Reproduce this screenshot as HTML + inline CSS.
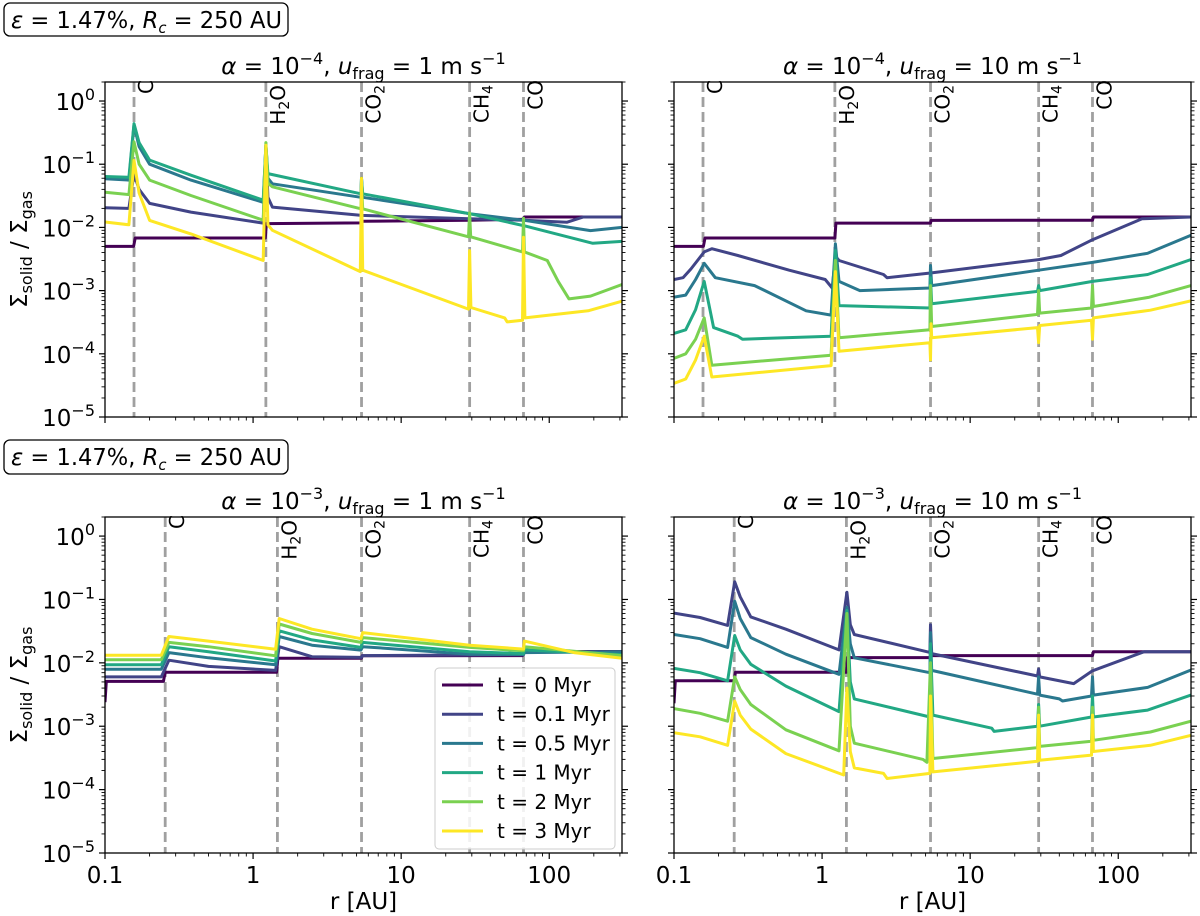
<!DOCTYPE html>
<html><head><meta charset="utf-8"><style>
html,body{margin:0;padding:0;background:#fff;}
svg{display:block;font-family:"DejaVu Sans","Liberation Sans",sans-serif;}
</style></head><body>
<svg id="fig" width="1200" height="916" viewBox="0 0 1200 916" xmlns="http://www.w3.org/2000/svg">
<g>
<rect x="4" y="3" width="284" height="33" rx="6" fill="#fff" stroke="#000" stroke-width="1.3"/>
<text x="11" y="28" font-size="23" textLength="271" lengthAdjust="spacingAndGlyphs"><tspan font-style="italic">ε</tspan> = 1.47%, <tspan font-style="italic">R</tspan><tspan font-style="italic" font-size="15" dy="5">c</tspan><tspan dy="-5"> = 250 AU</tspan></text>
</g>
<g>
<rect x="4" y="440" width="284" height="34" rx="6" fill="#fff" stroke="#000" stroke-width="1.3"/>
<text x="11" y="465" font-size="23" textLength="271" lengthAdjust="spacingAndGlyphs"><tspan font-style="italic">ε</tspan> = 1.47%, <tspan font-style="italic">R</tspan><tspan font-style="italic" font-size="15" dy="5">c</tspan><tspan dy="-5"> = 250 AU</tspan></text>
</g>
</svg>
<script>
const ns="http://www.w3.org/2000/svg";
const svg=document.getElementById('fig');
const seriesLabels=["t = 0 Myr","t = 0.1 Myr","t = 0.5 Myr","t = 1 Myr","t = 2 Myr","t = 3 Myr"];
const seriesColors=["#440154","#414487","#2a788e","#22a884","#7ad151","#fde725"];
const iceNames=["C","H2O","CO2","CH4","CO"];
const iceTop=[0.157,1.22,5.4,29,67];
const iceBottom=[0.255,1.46,5.4,29,67];
const xTickVals=[0.1,1,10,100];
const xTickLabels=["0.1","1","10","100"];
const yTickExps=[0,-1,-2,-3,-4,-5];
const xLim=[0.1,310];
const yLim=[1e-5,2];

// top-left: alpha 1e-4, ufrag 1
const tl0=[[0.1,0.005],[0.156,0.005],[0.16,0.0068],[1.21,0.0068],[1.23,0.0115],[5.4,0.0118],[5.45,0.0125],[29,0.013],[66,0.0135],[68,0.0146],[310,0.0146]];
const tl1=[[0.1,0.0205],[0.145,0.02],[0.157,0.071],[0.17,0.04],[0.2,0.024],[0.38,0.0175],[1.17,0.0117],[1.22,0.2],[1.26,0.03],[1.35,0.021],[5.4,0.0155],[29,0.0137],[67,0.013],[132,0.0121],[170,0.0146],[310,0.0146]];
const tl2=[[0.1,0.059],[0.145,0.056],[0.157,0.42],[0.17,0.19],[0.2,0.1],[0.38,0.056],[1.17,0.025],[1.22,0.2],[1.26,0.06],[1.35,0.049],[5.35,0.03],[5.4,0.06],[5.5,0.03],[29,0.0165],[67,0.013],[190,0.0089],[310,0.01]];
const tl3=[[0.1,0.064],[0.145,0.062],[0.157,0.44],[0.17,0.22],[0.2,0.116],[0.38,0.067],[1.17,0.027],[1.22,0.2],[1.26,0.071],[5.35,0.034],[5.4,0.06],[5.5,0.034],[29,0.0165],[67,0.0107],[197,0.0056],[310,0.006]];
const tl4=[[0.1,0.036],[0.145,0.033],[0.157,0.226],[0.17,0.1],[0.2,0.056],[0.38,0.032],[1.17,0.013],[1.22,0.22],[1.26,0.05],[1.35,0.044],[5.35,0.0197],[5.4,0.05],[5.5,0.0197],[28.5,0.0071],[29,0.017],[29.5,0.0071],[66,0.0041],[67,0.014],[68,0.0041],[97,0.003],[115,0.0014],[136,0.00074],[190,0.00082],[310,0.00125]];
const tl5=[[0.1,0.0122],[0.145,0.011],[0.157,0.115],[0.17,0.035],[0.2,0.0129],[0.38,0.0079],[1.17,0.003],[1.22,0.2],[1.26,0.011],[1.35,0.009],[5.3,0.002],[5.4,0.06],[5.5,0.0021],[28.5,0.00051],[29,0.0043],[29.6,0.00054],[50,0.00037],[52,0.00032],[66,0.00034],[67,0.007],[68.5,0.00037],[183,0.00048],[310,0.00068]];
// top-right: alpha 1e-4, ufrag 10
const tr0=[[0.1,0.005],[0.158,0.005],[0.162,0.0068],[1.22,0.0068],[1.24,0.0117],[5.4,0.0117],[5.45,0.0129],[29,0.013],[67,0.013],[68,0.0146],[310,0.0146]];
const tr1=[[0.1,0.0015],[0.115,0.0016],[0.13,0.0022],[0.16,0.0041],[0.18,0.0046],[0.27,0.0036],[0.6,0.0021],[1.05,0.0015],[1.17,0.0011],[1.23,0.0035],[1.3,0.003],[2.6,0.0018],[2.75,0.0016],[5.4,0.0019],[29,0.0031],[41,0.0036],[67,0.0064],[145,0.0137],[310,0.0146]];
const tr2=[[0.1,0.00079],[0.12,0.00085],[0.14,0.0015],[0.16,0.0027],[0.19,0.0016],[0.35,0.0012],[0.78,0.00048],[1.15,0.00041],[1.23,0.0055],[1.3,0.0014],[1.8,0.001],[5.35,0.0011],[5.4,0.0025],[5.5,0.0012],[29,0.0021],[67,0.0028],[158,0.0039],[310,0.0075]];
const tr3=[[0.1,0.00021],[0.12,0.00024],[0.14,0.0005],[0.16,0.0014],[0.185,0.00026],[0.27,0.00019],[0.29,0.00017],[1.15,0.00019],[1.23,0.0043],[1.3,0.00058],[5.35,0.00053],[5.4,0.0016],[5.5,0.00062],[28.5,0.00097],[29,0.0012],[29.5,0.001],[67,0.0014],[158,0.0018],[310,0.0031]];
const tr4=[[0.1,8.5e-5],[0.12,1e-4],[0.14,1.7e-4],[0.16,3.7e-4],[0.18,6.6e-5],[1.15,9.5e-5],[1.23,0.003],[1.3,1.8e-4],[5.35,2.4e-4],[5.4,0.0012],[5.5,2.7e-4],[28.5,4.2e-4],[29,0.001],[29.5,4.4e-4],[66,5.3e-4],[67,0.0012],[68,5.6e-4],[160,7.8e-4],[310,0.0012]];
const tr5=[[0.1,3.4e-5],[0.12,4e-5],[0.14,8e-5],[0.16,1.9e-4],[0.18,4.3e-5],[1.15,6.5e-5],[1.23,0.002],[1.3,1.1e-4],[5.35,1.5e-4],[5.4,8e-5],[5.45,3e-4],[5.5,1.8e-4],[28.5,2.6e-4],[29,1.5e-4],[29.5,2.8e-4],[66,3.4e-4],[67,1.7e-4],[68,3.7e-4],[165,4.9e-4],[310,6.9e-4]];
// bottom-left: alpha 1e-3, ufrag 1
const bl0=[[0.1,0.0024],[0.102,0.0051],[0.248,0.0051],[0.255,0.0071],[1.44,0.0071],[1.47,0.0118],[5.4,0.0118],[5.45,0.0129],[66,0.013],[68,0.0151],[310,0.0151]];
const bl1=[[0.1,0.006],[0.24,0.006],[0.27,0.011],[0.5,0.0088],[1.42,0.0076],[1.5,0.018],[2.5,0.0125],[5.4,0.0122],[5.5,0.013],[67,0.0135],[68,0.015],[310,0.015]];
const bl2=[[0.1,0.0079],[0.24,0.0079],[0.27,0.0145],[0.5,0.012],[1.42,0.0093],[1.5,0.026],[2.5,0.019],[5.35,0.0159],[5.5,0.018],[29,0.0137],[67,0.0135],[68,0.0145],[310,0.015]];
const bl3=[[0.1,0.0093],[0.24,0.0093],[0.27,0.018],[0.5,0.015],[1.42,0.0107],[1.5,0.032],[2.5,0.023],[5.35,0.0175],[5.5,0.021],[29,0.015],[67,0.014],[68,0.016],[310,0.0135]];
const bl4=[[0.1,0.0112],[0.24,0.0112],[0.27,0.021],[0.5,0.018],[1.42,0.0129],[1.5,0.041],[2.5,0.029],[5.35,0.021],[5.5,0.025],[29,0.0175],[67,0.0155],[68,0.018],[310,0.013]];
const bl5=[[0.1,0.0132],[0.24,0.0132],[0.27,0.026],[0.5,0.022],[1.42,0.0164],[1.5,0.05],[2.5,0.034],[5.35,0.024],[5.5,0.03],[29,0.019],[67,0.0165],[68,0.022],[147,0.0145],[310,0.0118]];
// bottom-right: alpha 1e-3, ufrag 10
const br0=[[0.1,0.0023],[0.102,0.0052],[0.255,0.0052],[0.26,0.0071],[1.46,0.0071],[1.48,0.0121],[5.4,0.0121],[5.45,0.013],[67,0.013],[68,0.015],[310,0.015]];
const br1=[[0.1,0.061],[0.15,0.052],[0.23,0.039],[0.257,0.19],[0.28,0.11],[0.33,0.053],[0.57,0.034],[1.3,0.016],[1.47,0.13],[1.55,0.04],[1.65,0.028],[5.35,0.0146],[5.4,0.04],[5.5,0.014],[28.5,0.0062],[29,0.008],[29.5,0.006],[50,0.0047],[67,0.0075],[150,0.015],[310,0.015]];
const br2=[[0.1,0.028],[0.15,0.024],[0.23,0.0175],[0.257,0.094],[0.28,0.05],[0.33,0.025],[0.57,0.0137],[1.3,0.0066],[1.47,0.075],[1.55,0.02],[1.65,0.012],[5.35,0.007],[5.4,0.03],[5.5,0.0076],[28.5,0.0032],[29,0.006],[29.5,0.0031],[40,0.0027],[42,0.0025],[66,0.003],[67,0.006],[68,0.0031],[158,0.0041],[310,0.0077]];
const br3=[[0.1,0.0082],[0.15,0.007],[0.23,0.0052],[0.257,0.027],[0.28,0.016],[0.33,0.0095],[0.57,0.0043],[1.3,0.0017],[1.47,0.067],[1.55,0.005],[1.65,0.0027],[5.35,0.0014],[5.4,0.02],[5.6,0.0015],[14,0.00093],[14.5,0.00083],[28.5,0.001],[29,0.0022],[29.5,0.001],[66,0.0014],[67,0.003],[68,0.0014],[158,0.0018],[310,0.0031]];
const br4=[[0.1,0.0019],[0.15,0.0016],[0.23,0.0012],[0.257,0.006],[0.28,0.0038],[0.33,0.0022],[0.57,0.00088],[1.3,0.00041],[1.47,0.06],[1.55,0.001],[1.65,0.00054],[4.8,0.0003],[5.1,0.00027],[5.4,0.01],[5.6,0.00031],[28.5,0.00046],[29,0.002],[29.5,0.00048],[66,0.00058],[67,0.002],[68,0.0006],[165,0.00081],[310,0.0012]];
const br5=[[0.1,0.00079],[0.15,0.00068],[0.23,0.0005],[0.257,0.0025],[0.28,0.0015],[0.33,0.0009],[0.57,0.00037],[1.4,0.00017],[1.47,0.004],[1.55,0.0004],[1.65,0.00022],[2.6,0.00018],[2.75,0.00015],[5.35,0.00018],[5.4,0.003],[5.6,0.00019],[28.5,0.00028],[29,0.0015],[29.5,0.00029],[66,0.00035],[67,0.0015],[68,0.0004],[165,0.0005],[310,0.00072]];

const panels=[
 {name:'top-left',x0:105,x1:622,y0:82,y1:417,alpha:'−4',u:'1',ice:iceTop,series:[tl0,tl1,tl2,tl3,tl4,tl5],ylab:true,xlab:false},
 {name:'top-right',x0:674,x1:1191,y0:82,y1:417,alpha:'−4',u:'10',ice:iceTop,series:[tr0,tr1,tr2,tr3,tr4,tr5],ylab:false,xlab:false},
 {name:'bottom-left',x0:105,x1:622,y0:517,y1:853,alpha:'−3',u:'1',ice:iceBottom,series:[bl0,bl1,bl2,bl3,bl4,bl5],ylab:true,xlab:true,legend:true},
 {name:'bottom-right',x0:674,x1:1191,y0:517,y1:853,alpha:'−3',u:'10',ice:iceBottom,series:[br0,br1,br2,br3,br4,br5],ylab:false,xlab:true}
];
function mk(tag,attrs,parent){const e=document.createElementNS(ns,tag);for(const k in attrs)e.setAttribute(k,attrs[k]);(parent||svg).appendChild(e);return e;}
panels.forEach((p,pi)=>{
 const g=mk('g',{});
 
 
 const lx0=Math.log10(xLim[0]),lx1=Math.log10(xLim[1]),ly0=Math.log10(yLim[0]),ly1=Math.log10(yLim[1]);
 const X=r=>p.x0+(Math.log10(r)-lx0)/(lx1-lx0)*(p.x1-p.x0);
 const Y=v=>p.y1-(Math.log10(v)-ly0)/(ly1-ly0)*(p.y1-p.y0);
 const cid='clip'+pi;
 const cp=mk('clipPath',{id:cid},g);mk('rect',{x:p.x0,y:p.y0,width:p.x1-p.x0,height:p.y1-p.y0},cp);
 p.ice.forEach((r,i)=>{
  const l=mk('line',{x1:X(r),x2:X(r),y1:p.y0,y2:p.y1,stroke:'#a0a0a0','stroke-width':2.8,'stroke-dasharray':'10,5'},g);
  
  
 });
 const sg=mk('g',{'clip-path':'url(#'+cid+')'},g);
 p.series.forEach((s,i)=>{
  const d=s.map((pt,j)=>(j?'L':'M')+X(pt[0]).toFixed(1)+','+Y(pt[1]).toFixed(1)).join('');
  const path=mk('path',{d:d,fill:'none',stroke:seriesColors[i],'stroke-width':3,'stroke-linejoin':'round'},sg);
  
  
 });
 p.ice.forEach((r,i)=>{
  const x=X(r)+19, y=(i===0||i===4)?p.y0-2:p.y0+3;
  const t=mk('text',{x:x,y:y,'font-size':20,'text-anchor':'end',transform:'rotate(-90 '+x+' '+y+')'},g);
  
  
  const nm=iceNames[i];
  if(nm==='H2O'){t.innerHTML='H<tspan font-size="14" dy="4">2</tspan><tspan dy="-4">O</tspan>';}
  else if(nm==='CO2'){t.innerHTML='CO<tspan font-size="14" dy="4">2</tspan>';}
  else if(nm==='CH4'){t.innerHTML='CH<tspan font-size="14" dy="4">4</tspan>';}
  else t.textContent=nm;
 });
 const fr=mk('rect',{x:p.x0,y:p.y0,width:p.x1-p.x0,height:p.y1-p.y0,fill:'none',stroke:'#000','stroke-width':1.3},g);
 
 
 for(let e=-5;e<=0;e++){
  [p.x0,p.x1].forEach(xx=>{
   const s=xx===p.x0?-1:1;
   mk('line',{x1:xx,x2:xx+s*6,y1:Y(Math.pow(10,e)),y2:Y(Math.pow(10,e)),stroke:'#000','stroke-width':1.2},g);
   for(let m=2;m<=9;m++){const v=m*Math.pow(10,e);if(v>yLim[1])continue;
    mk('line',{x1:xx,x2:xx+s*3.5,y1:Y(v),y2:Y(v),stroke:'#000','stroke-width':0.9},g);}
  });
 }
 if(p.ylab){
  yTickExps.forEach(e=>{
   const t=mk('text',{x:p.x0-10,y:Y(Math.pow(10,e))+9,'font-size':23,'text-anchor':'end'},g);
   
   
   t.innerHTML='10<tspan font-size="16" dy="-10">'+(e===0?'0':'−'+(-e))+'</tspan>';
  });
  const cy=(p.y0+p.y1)/2;
  const t=mk('text',{x:27,y:cy,'font-size':23,'text-anchor':'middle',transform:'rotate(-90 27 '+cy+')'},g);
  
  
  t.innerHTML='Σ<tspan font-size="16" dy="5">solid</tspan><tspan dy="-5"> / Σ</tspan><tspan font-size="16" dy="5">gas</tspan>';
 }
 for(let e=-1;e<=2;e++){
  mk('line',{x1:X(Math.pow(10,e)),x2:X(Math.pow(10,e)),y1:p.y1,y2:p.y1+6,stroke:'#000','stroke-width':1.2},g);
  for(let m=2;m<=9;m++){const v=m*Math.pow(10,e);if(v>xLim[1])continue;
   mk('line',{x1:X(v),x2:X(v),y1:p.y1,y2:p.y1+3.5,stroke:'#000','stroke-width':0.9},g);}
 }
 if(p.xlab){
  xTickVals.forEach((v,i)=>{
   const t=mk('text',{x:X(v),y:p.y1+30,'font-size':23,'text-anchor':'middle'},g);
   
   
   t.textContent=xTickLabels[i];
  });
  const t=mk('text',{x:(p.x0+p.x1)/2,y:p.y1+56,'font-size':23,'text-anchor':'middle'},g);
  
  
  t.textContent='r [AU]';
 }
 const tt=mk('text',{x:(p.x0+p.x1)/2,y:p.y0-8,'font-size':23,'text-anchor':'middle'},g);
 
 
 tt.innerHTML='<tspan font-style="italic">α</tspan> = 10<tspan font-size="16" dy="-10">'+p.alpha+'</tspan><tspan dy="10">, </tspan><tspan font-style="italic">u</tspan><tspan font-size="16" dy="5">frag</tspan><tspan dy="-5"> = '+p.u+' m s</tspan><tspan font-size="16" dy="-10">−1</tspan>';
 if(p.legend){
  const lg=mk('g',{},g);
  
  
  mk('rect',{x:435,y:668,width:180,height:181,rx:4,fill:'#fff','fill-opacity':0.85,stroke:'#cccccc','stroke-width':1},lg);
  seriesLabels.forEach((lab,i)=>{
   const yy=685+i*29.2;
   const eg=mk('g',{},lg);
   
   
   mk('line',{x1:442,x2:483,y1:yy,y2:yy,stroke:seriesColors[i],'stroke-width':3},eg);
   const t=mk('text',{x:497,y:yy+7,'font-size':20},eg);
   t.textContent=lab;
  });
 }
});
</script>
</body></html>
